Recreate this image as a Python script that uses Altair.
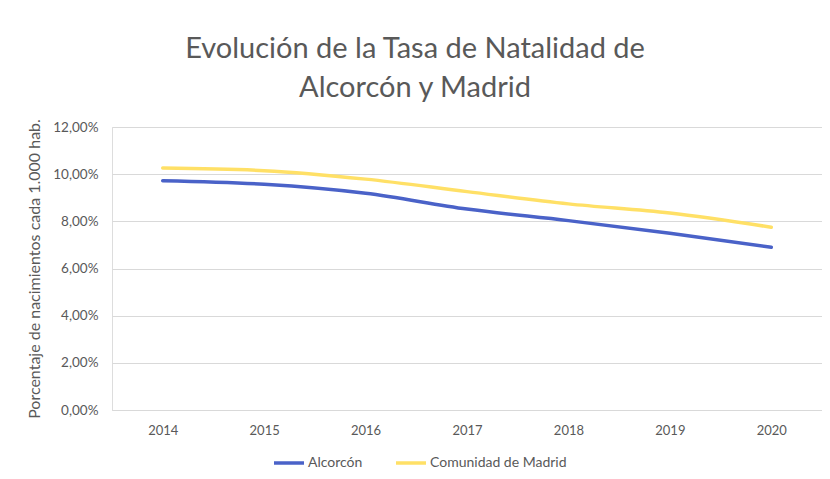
import altair as alt
import pandas as pd

years = ["2014", "2015", "2016", "2017", "2018", "2019", "2020"]
alcorcon = [9.72, 9.57, 9.19, 8.52, 8.03, 7.49, 6.90]
madrid = [10.26, 10.15, 9.79, 9.26, 8.74, 8.35, 7.75]
series_names = ["Alcorcón", "Comunidad de Madrid"]
y_ticks = [0, 0.02, 0.04, 0.06, 0.08, 0.10, 0.12]

rows = []
for name, vals in zip(series_names, [alcorcon, madrid]):
    for y, v in zip(years, vals):
        rows.append({"Año": y, "Serie": name, "Tasa": v / 100})
df = pd.DataFrame(rows)

FONT = "Lato"
GREY = "#595959"

chart = alt.Chart(df).mark_line(strokeWidth=3.5, interpolate="monotone", strokeCap="round").encode(
    x=alt.X("Año:N", sort=years, scale=alt.Scale(paddingInner=0, paddingOuter=0.5),
            axis=alt.Axis(title=None, labelAngle=0, ticks=False, domain=True, domainColor="#d9d9d9",
                          labelPadding=14, labelFontSize=13, labelColor=GREY, labelFont=FONT, grid=False)),
    y=alt.Y("Tasa:Q", scale=alt.Scale(domain=[0, 0.12]),
            axis=alt.Axis(values=y_ticks, labelExpr="replace(format(datum.value, '.2%'), '.', ',')",
                          title="Porcentaje de nacimientos cada 1.000 hab.", titleFontSize=16,
                          titleFontWeight="normal", titleColor=GREY, titleFont=FONT, titlePadding=10,
                          ticks=False, domain=False, labelPadding=14, labelFontSize=13.5,
                          labelColor=GREY, labelFont=FONT, gridColor="#d9d9d9")),
    color=alt.Color("Serie:N", sort=series_names,
                    scale=alt.Scale(domain=series_names, range=["#4A62C8", "#FFE066"]),
                    legend=alt.Legend(title=None, orient="none", legendX=160, legendY=319,
                                      direction="horizontal", symbolType="stroke", symbolSize=900,
                                      symbolStrokeWidth=3.5, labelFontSize=14, labelColor=GREY,
                                      labelFont=FONT, labelOffset=2, columnPadding=26)),
).properties(
    width=710, height=283,
    title=alt.TitleParams(["Evolución de la Tasa de Natalidad de", "Alcorcón y Madrid"],
                          fontSize=29, font=FONT, fontWeight="normal", color=GREY,
                          anchor="middle", dx=-52, offset=16, lineHeight=39),
    autosize=alt.AutoSizeParams(type="none"),
    padding={"left": 104, "top": 119, "right": 0, "bottom": 61},
).configure_view(stroke=None).configure(background="white")

chart.save("out.html", embed_options={"renderer": "svg", "actions": False})
